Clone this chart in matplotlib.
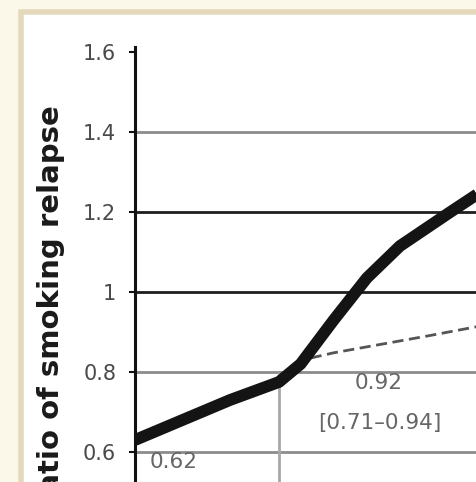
import matplotlib.pyplot as plt
from matplotlib.patches import Rectangle

# relapse ratio curve (thick) and reference (dashed)
curve_x = [0.0, 0.66, 1.0, 1.15, 1.38, 1.61, 1.84, 2.19, 2.4]
curve_y = [0.63, 0.73, 0.775, 0.82, 0.93, 1.035, 1.115, 1.20, 1.25]
ref_x = [1.22, 1.38, 2.03, 2.4]
ref_y = [0.835, 0.848, 0.89, 0.915]

yticks = [0.6, 0.8, 1.0, 1.2, 1.4, 1.6]
ytick_labels = ["0.6", "0.8", "1", "1.2", "1.4", "1.6"]
grid_levels = [0.6, 0.8, 1.0, 1.2, 1.4]
grid_colors = ["#8c8c8c", "#8c8c8c", "#1e1e1e", "#1e1e1e", "#8c8c8c"]

cell_texts = ["0.62", "0.92", "[0.71\u20130.94]"]
cell_x = [0.1, 1.69, 1.70]
cell_y = [0.575, 0.7725, 0.6725]
cell_ha = ["left", "center", "center"]

W, H = 477, 482
fig = plt.figure(figsize=(W / 100, H / 100), dpi=100, facecolor="#fcf8e9")
fig.patches.append(Rectangle((21 / W, -0.05), 1.2, 1 - 12 / H + 0.05,
                             transform=fig.transFigure, facecolor="white",
                             edgecolor="#e4dabb", linewidth=4, zorder=-5))

ax = fig.add_axes([135 / W, 0, 1 - 135 / W, 1 - 47 / H])
ax.set_facecolor("none")
ax.set_xlim(0, (W - 135) / 144)
ax.set_ylim(0.525, 1.6125)

for lvl, col in zip(grid_levels, grid_colors):
    ax.axhline(lvl, color=col, lw=2.0, zorder=1)
ax.vlines(1.0, 0.5, 0.8, color="#a8a8a8", lw=2.0, zorder=1)

ax.plot(ref_x, ref_y, color="#555555", lw=2.0, ls=(0, (4, 2)), zorder=2)
ax.plot(curve_x, curve_y, color="#141414", lw=8.5, solid_capstyle="butt",
        solid_joinstyle="round", zorder=3)

for s, x, y, ha in zip(cell_texts, cell_x, cell_y, cell_ha):
    ax.text(x, y, s, ha=ha, va="center", fontsize=15.5, color="#666666")

for side in ["top", "right", "bottom"]:
    ax.spines[side].set_visible(False)
ax.spines["left"].set_linewidth(2.2)
ax.spines["left"].set_color("#111111")
ax.set_xticks([])
ax.set_yticks(yticks)
ax.set_yticklabels(ytick_labels)
ax.tick_params(axis="y", direction="out", length=4.5, width=1.5, pad=9,
               labelsize=15, labelcolor="#4a4a4a", color="#111111")

fig.text(51 / W, 1 - 105 / H, "Ratio of smoking relapse", rotation=90,
         ha="center", va="top", fontsize=21, fontweight="bold",
         family="DejaVu Sans", color="#1a1a1a")

fig.savefig("out.png", dpi=100, facecolor=fig.get_facecolor())
